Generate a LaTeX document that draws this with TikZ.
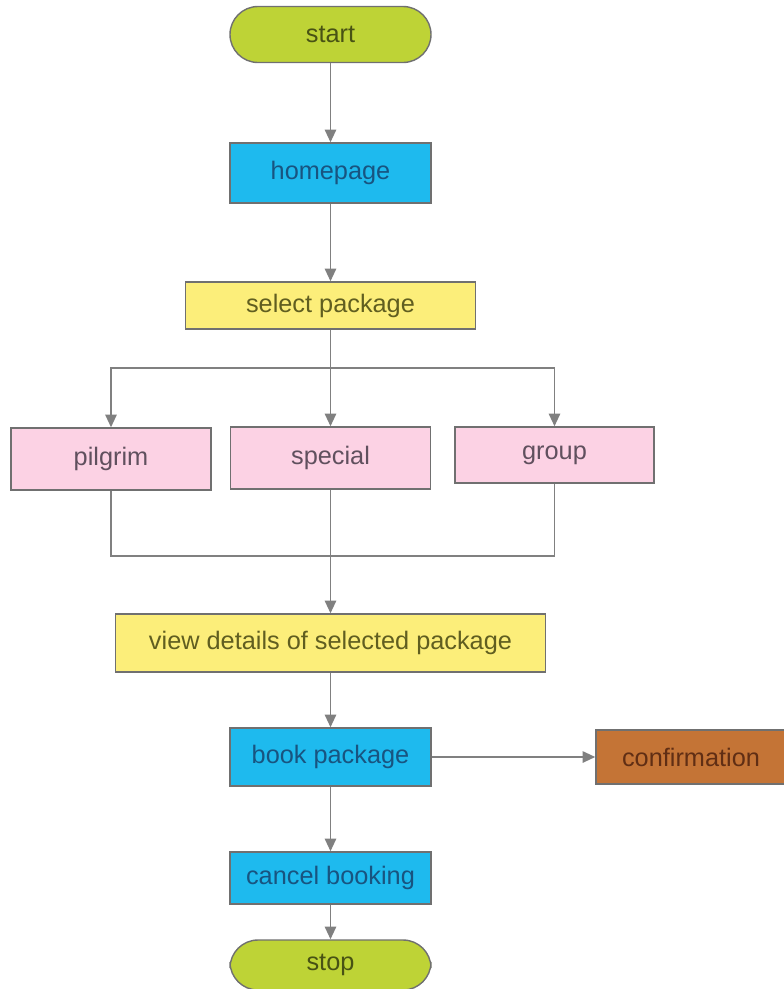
\documentclass[tikz,border=0pt]{standalone}
\usepackage{fontspec}
\setmainfont{Liberation Sans}
\usetikzlibrary{arrows.meta}

\definecolor{limefill}{RGB}{190,211,54}
\definecolor{limetext}{RGB}{72,82,20}
\definecolor{cyanfill}{RGB}{30,186,238}
\definecolor{cyantext}{RGB}{24,84,128}
\definecolor{yellowfill}{RGB}{252,238,122}
\definecolor{yellowtext}{RGB}{96,94,32}
\definecolor{pinkfill}{RGB}{252,210,228}
\definecolor{pinktext}{RGB}{96,80,94}
\definecolor{brownfill}{RGB}{196,116,54}
\definecolor{browntext}{RGB}{96,46,20}
\definecolor{edgegray}{RGB}{112,112,112}
\definecolor{linegray}{RGB}{128,128,128}

\tikzset{
    box/.style={draw=edgegray, line width=1pt, inner sep=0pt,
        font=\fontsize{18}{20}\selectfont},
    terminal/.style={box, rounded corners=0.7cm, fill=limefill, text=limetext},
    page/.style={box, fill=cyanfill, text=cyantext},
    choice/.style={box, fill=yellowfill, text=yellowtext},
    kind/.style={box, fill=pinkfill, text=pinktext},
    result/.style={box, fill=brownfill, text=browntext},
    flow/.style={draw=linegray, line width=1.4pt},
    flowarrow/.style={flow, -{Triangle[length=9pt,width=8pt]}}
}

\begin{document}
\begin{tikzpicture}[x=0.025cm,y=-0.025cm]
    \useasboundingbox (0,0) rectangle (784,989);
    \fill[white] (0,0) rectangle (784,989);

    % top part
    \node[terminal, minimum width=201*0.025cm, minimum height=56*0.025cm] (start) at (330.5,34.5) {start};
    \node[page, minimum width=201*0.025cm, minimum height=60*0.025cm] (homepage) at (330.5,173) {homepage};
    \node[choice, minimum width=290*0.025cm, minimum height=47*0.025cm] (select) at (330.5,305.5) {select package};

    % the three packages
    \node[kind, minimum width=200*0.025cm, minimum height=62*0.025cm] (pilgrim) at (111,459) {pilgrim};
    \node[kind, minimum width=200*0.025cm, minimum height=62*0.025cm] (special) at (330.5,458) {special};
    \node[kind, minimum width=199*0.025cm, minimum height=56*0.025cm] (group) at (554.5,455) {group};

    % lower part
    \node[choice, minimum width=430*0.025cm, minimum height=58*0.025cm] (details) at (330.5,643) {view details of selected package};
    \node[page, minimum width=201*0.025cm, minimum height=58*0.025cm] (book) at (330.5,757) {book package};
    \node[result, minimum width=190*0.025cm, minimum height=54*0.025cm] (confirm) at (691,757) {confirmation};
    \node[page, minimum width=201*0.025cm, minimum height=52*0.025cm] (cancel) at (330.5,878) {cancel booking};
    \node[terminal, minimum width=201*0.025cm, minimum height=50*0.025cm] (stop) at (330.5,965) {stop};

    \coordinate (split) at (330.5,368);
    \coordinate (join) at (330.5,556);

    \draw[flowarrow] (start) -- (homepage);
    \draw[flowarrow] (homepage) -- (select);
    \draw[flow] (select) -- (split);
    \draw[flowarrow] (split) -| (pilgrim);
    \draw[flowarrow] (split) -- (special);
    \draw[flowarrow] (split) -| (group);

    \draw[flow] (pilgrim) |- (join);
    \draw[flow] (group) |- (join);
    \draw[flow] (special) -- (join);
    \draw[flowarrow] (join) -- (details);

    \draw[flowarrow] (details) -- (book);
    \draw[flowarrow] (book) -- (confirm);
    \draw[flowarrow] (book) -- (cancel);
    \draw[flowarrow] (cancel) -- (stop);
\end{tikzpicture}
\end{document}
